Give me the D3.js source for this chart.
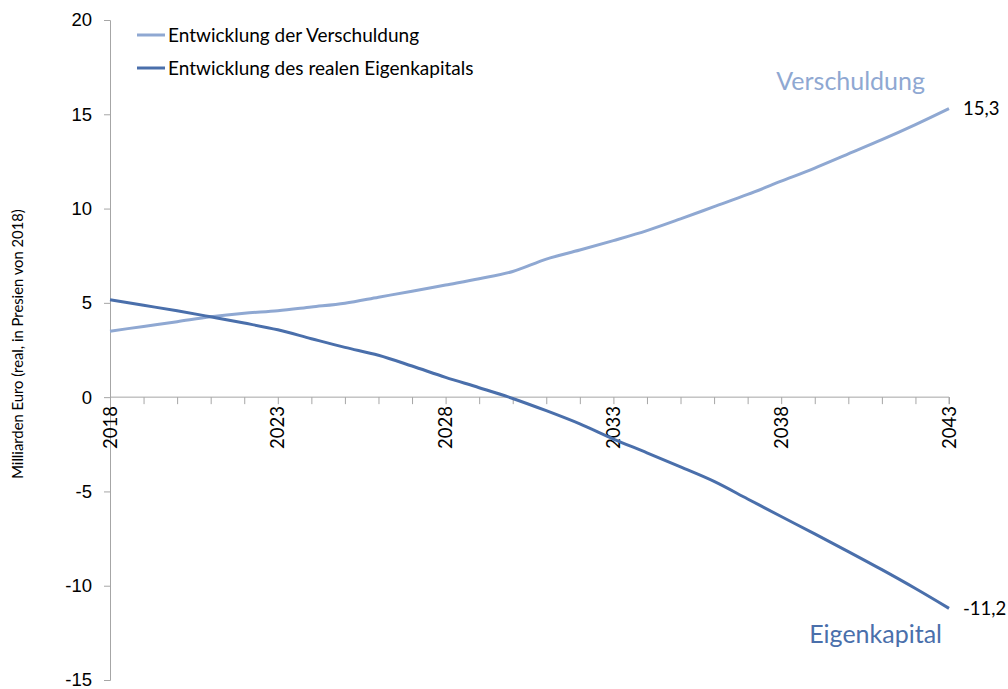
<!DOCTYPE html>
<html>
<head>
<meta charset="utf-8">
<script src="https://cdn.jsdelivr.net/npm/d3@7"></script>
<style>
  body { margin: 0; background: #fff; }
  svg { display: block; font-family: Lato, "Open Sans", sans-serif; }
  .axis path, .axis line { stroke: #a6a6a6; }
</style>
</head>
<body>
<svg id="chart" width="1008" height="689"></svg>
<script>
//*************************************************
// Data
//*************************************************
var years = d3.range(2018, 2044);
var verschuldung = [3.50, 3.75, 4.00, 4.26, 4.45, 4.58, 4.78, 4.98, 5.30, 5.62, 5.95, 6.28, 6.66,
                    7.32, 7.80, 8.30, 8.83, 9.45, 10.10, 10.75, 11.45, 12.15, 12.90, 13.65, 14.45, 15.30];
var eigenkapital = [5.16, 4.87, 4.58, 4.26, 3.93, 3.57, 3.10, 2.64, 2.22, 1.65, 1.05, 0.50, -0.07,
                    -0.72, -1.42, -2.22, -2.95, -3.70, -4.47, -5.40, -6.33, -7.25, -8.19, -9.15, -10.15, -11.20];
var yTicks = [20, 15, 10, 5, 0, -5, -10, -15];
var xLabelYears = [2018, 2023, 2028, 2033, 2038, 2043];
var seriesNames = ['Entwicklung der Verschuldung', 'Entwicklung des realen Eigenkapitals'];
var endLabels = ['15,3', '-11,2'];

var _colors = ['#8fa8d2', '#4a6fab'];
var _padding = { left: 110, right: 59, top: 20, bottom: 9 };
var _width = 1008;
var _height = 689;

var svg = d3.select('#chart');
var x = d3.scaleLinear().domain([2018, 2043]).range([_padding.left, _width - _padding.right]);
var y = d3.scaleLinear().domain([-15, 20]).range([_height - _padding.bottom, _padding.top]);

//----------------------------------------------------------------------------------
// Axes
//----------------------------------------------------------------------------------
var yAxis = svg.append('g')
    .attr('class', 'axis')
    .attr('transform', 'translate(' + x(2018) + ',0)')
    .call(d3.axisLeft(y).tickValues(yTicks).tickSize(6).tickPadding(12).tickFormat(function (d){ return String(d); }));
yAxis.selectAll('text').style('font-size', '18.5px').attr('fill', '#000');

var xAxis = svg.append('g')
    .attr('class', 'axis')
    .attr('transform', 'translate(0,' + y(0) + ')')
    .call(d3.axisBottom(x).tickValues(years).tickSize(7).tickFormat(''));
xAxis.select('.domain').attr('d', 'M' + x(2018) + ',0H' + x(2043) + 'V7');

svg.append('g').selectAll('text')
    .data(xLabelYears).enter().append('text')
    .attr('transform', function (d){ return 'translate(' + (x(d) + 6.5) + ',' + (y(0) + 9) + ') rotate(-90)'; })
    .attr('text-anchor', 'end')
    .style('font-size', '18.5px')
    .text(function (d){ return d; });

svg.append('text')
    .attr('transform', 'translate(23,' + 344 + ') rotate(-90)')
    .attr('text-anchor', 'middle')
    .style('font-size', '14.8px')
    .text('Milliarden Euro (real, in Presien von 2018)');

//----------------------------------------------------------------------------------
// Lines
//----------------------------------------------------------------------------------
var line = d3.line()
    .x(function (d, i){ return x(years[i]); })
    .y(function (d){ return y(d); })
    .curve(d3.curveMonotoneX);

[verschuldung, eigenkapital].forEach(function (s, i){
    svg.append('path')
        .datum(s)
        .attr('fill', 'none')
        .attr('stroke', _colors[i])
        .attr('stroke-width', 3)
        .attr('d', line);

    svg.append('text')
        .attr('x', x(2043) + 14)
        .attr('y', y(s[s.length - 1]))
        .attr('dy', '0.35em')
        .style('font-size', '18.5px')
        .text(endLabels[i]);
});

//----------------------------------------------------------------------------------
// Series annotations
//----------------------------------------------------------------------------------
svg.append('text')
    .attr('x', 925).attr('y', 90)
    .attr('text-anchor', 'end')
    .attr('fill', _colors[0])
    .style('font-size', '25px')
    .text('Verschuldung');

svg.append('text')
    .attr('x', 942).attr('y', 643)
    .attr('text-anchor', 'end')
    .attr('fill', _colors[1])
    .style('font-size', '25px')
    .text('Eigenkapital');

//----------------------------------------------------------------------------------
// Legend
//----------------------------------------------------------------------------------
var legend = svg.append('g').attr('transform', 'translate(137,35)');
var items = legend.selectAll('g').data(seriesNames).enter().append('g')
    .attr('transform', function (d, i){ return 'translate(0,' + (i * 33) + ')'; });
items.append('line')
    .attr('x1', 0).attr('x2', 28)
    .attr('stroke', function (d, i){ return _colors[i]; })
    .attr('stroke-width', 3);
items.append('text')
    .attr('x', 31)
    .attr('dy', '0.35em')
    .style('font-size', '19px')
    .text(function (d){ return d; });
</script>
</body>
</html>
